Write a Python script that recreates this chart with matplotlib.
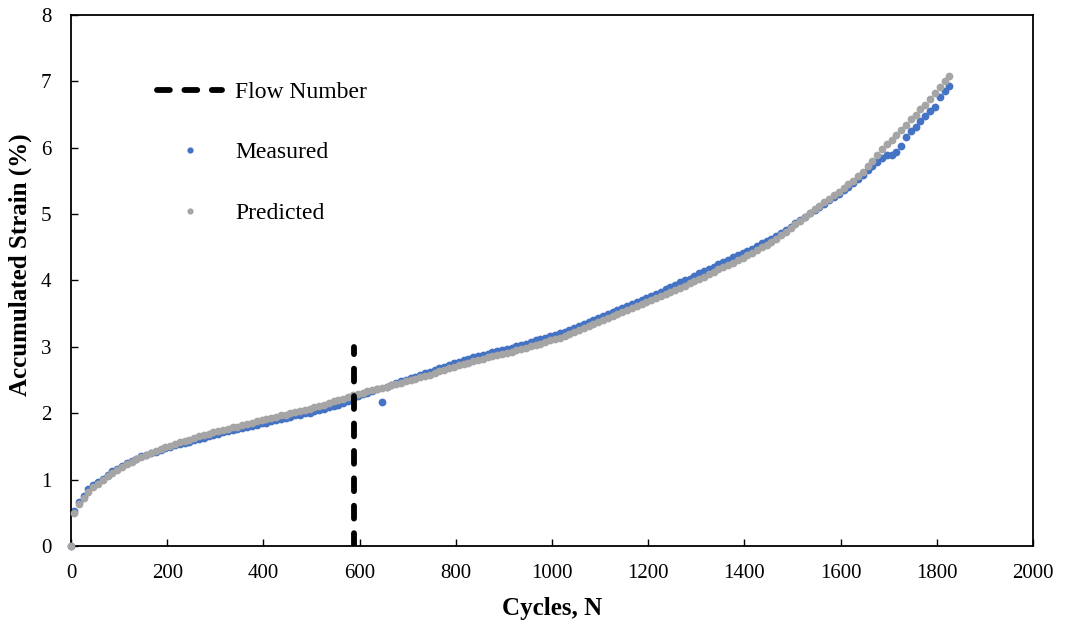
import matplotlib.pyplot as plt

plt.rcParams['font.family'] = ['Liberation Serif', 'DejaVu Serif']

# cycle numbers of the recorded points
cycles = [0, 6, 16, 26, 36, 46, 56, 66, 76, 86, 96,
          106, 116, 126, 136, 146, 156, 166, 176, 186, 196,
          206, 216, 226, 236, 246, 256, 266, 276, 286, 296,
          306, 316, 326, 336, 346, 356, 366, 376, 386, 396,
          406, 416, 426, 436, 446, 456, 466, 476, 486, 496,
          506, 516, 526, 536, 546, 556, 566, 576, 586, 596,
          606, 616, 626, 636, 646, 656, 666, 676, 686, 696,
          706, 716, 726, 736, 746, 756, 766, 776, 786, 796,
          806, 816, 826, 836, 846, 856, 866, 876, 886, 896,
          906, 916, 926, 936, 946, 956, 966, 976, 986, 996,
          1006, 1016, 1026, 1036, 1046, 1056, 1066, 1076, 1086, 1096,
          1106, 1116, 1126, 1136, 1146, 1156, 1166, 1176, 1186, 1196,
          1206, 1216, 1226, 1236, 1246, 1256, 1266, 1276, 1286, 1296,
          1306, 1316, 1326, 1336, 1346, 1356, 1366, 1376, 1386, 1396,
          1406, 1416, 1426, 1436, 1446, 1456, 1466, 1476, 1486, 1496,
          1506, 1516, 1526, 1536, 1546, 1556, 1566, 1576, 1586, 1596,
          1606, 1616, 1626, 1636, 1646, 1656, 1666, 1676, 1686, 1696,
          1706, 1716, 1726, 1736, 1746, 1756, 1766, 1776, 1786, 1796,
          1806, 1816, 1826]

measured = [0.00, 0.52, 0.66, 0.76, 0.86, 0.92, 0.96, 1.01, 1.07, 1.13, 1.16,
            1.20, 1.25, 1.28, 1.31, 1.35, 1.37, 1.40, 1.42, 1.45, 1.47,
            1.49, 1.52, 1.53, 1.55, 1.57, 1.59, 1.61, 1.63, 1.65, 1.67,
            1.69, 1.71, 1.73, 1.74, 1.76, 1.78, 1.80, 1.81, 1.83, 1.85,
            1.86, 1.88, 1.90, 1.92, 1.93, 1.95, 1.97, 1.98, 2.00, 2.01,
            2.03, 2.05, 2.07, 2.09, 2.11, 2.13, 2.16, 2.19, 2.22, 2.26,
            2.29, 2.31, 2.34, 2.36, 2.17, 2.40, 2.43, 2.45, 2.48, 2.50,
            2.53, 2.55, 2.58, 2.60, 2.62, 2.65, 2.68, 2.70, 2.73, 2.75,
            2.77, 2.80, 2.82, 2.84, 2.86, 2.88, 2.90, 2.92, 2.94, 2.95,
            2.97, 2.99, 3.01, 3.03, 3.05, 3.08, 3.10, 3.12, 3.14, 3.16,
            3.18, 3.21, 3.23, 3.26, 3.29, 3.31, 3.35, 3.38, 3.41, 3.43,
            3.47, 3.50, 3.53, 3.56, 3.59, 3.62, 3.65, 3.68, 3.71, 3.74,
            3.77, 3.80, 3.83, 3.87, 3.90, 3.93, 3.97, 4.00, 4.03, 4.07,
            4.11, 4.14, 4.18, 4.21, 4.25, 4.28, 4.31, 4.35, 4.38, 4.41,
            4.45, 4.48, 4.52, 4.56, 4.59, 4.63, 4.67, 4.71, 4.76, 4.81,
            4.86, 4.91, 4.96, 5.01, 5.06, 5.11, 5.16, 5.21, 5.26, 5.31,
            5.36, 5.41, 5.47, 5.53, 5.59, 5.66, 5.73, 5.78, 5.85, 5.89,
            5.89, 5.93, 6.03, 6.16, 6.25, 6.31, 6.40, 6.48, 6.55, 6.62,
            6.77, 6.86, 6.93]

predicted = [0.00, 0.50, 0.63, 0.72, 0.82, 0.89, 0.94, 0.99, 1.05, 1.10, 1.15,
             1.19, 1.23, 1.27, 1.31, 1.34, 1.37, 1.40, 1.43, 1.46, 1.49,
             1.51, 1.54, 1.56, 1.58, 1.60, 1.63, 1.65, 1.67, 1.69, 1.71,
             1.73, 1.75, 1.77, 1.79, 1.80, 1.82, 1.84, 1.86, 1.88, 1.90,
             1.91, 1.93, 1.95, 1.97, 1.98, 2.00, 2.02, 2.04, 2.05, 2.07,
             2.09, 2.11, 2.13, 2.15, 2.18, 2.20, 2.22, 2.25, 2.27, 2.29,
             2.31, 2.33, 2.35, 2.37, 2.38, 2.40, 2.42, 2.44, 2.46, 2.48,
             2.50, 2.52, 2.54, 2.56, 2.58, 2.60, 2.63, 2.65, 2.68, 2.70,
             2.72, 2.74, 2.76, 2.78, 2.80, 2.82, 2.84, 2.86, 2.88, 2.89,
             2.91, 2.93, 2.95, 2.97, 2.99, 3.01, 3.03, 3.05, 3.08, 3.10,
             3.12, 3.14, 3.17, 3.19, 3.22, 3.25, 3.28, 3.31, 3.34, 3.37,
             3.40, 3.43, 3.46, 3.49, 3.52, 3.55, 3.58, 3.61, 3.64, 3.67,
             3.70, 3.73, 3.76, 3.79, 3.82, 3.85, 3.89, 3.92, 3.96, 3.99,
             4.03, 4.06, 4.10, 4.13, 4.17, 4.20, 4.24, 4.27, 4.31, 4.34,
             4.38, 4.42, 4.46, 4.50, 4.54, 4.58, 4.63, 4.68, 4.73, 4.79,
             4.85, 4.90, 4.96, 5.01, 5.07, 5.12, 5.18, 5.23, 5.29, 5.34,
             5.39, 5.45, 5.50, 5.57, 5.64, 5.72, 5.80, 5.89, 5.98, 6.05,
             6.12, 6.19, 6.27, 6.35, 6.43, 6.50, 6.58, 6.65, 6.73, 6.82,
             6.92, 7.00, 7.08]

flow_number = 588
flow_x = [flow_number, flow_number]
flow_y = [0, 3]

blue = '#4472C4'
grey = '#A5A5A5'

fig = plt.figure(figsize=(10.65, 6.28), dpi=100)
ax = fig.add_axes([0.0667, 0.1306, 0.9033, 0.8455])

ax.plot(flow_x, flow_y, color='black', lw=4.2, linestyle=(0, (2.2, 2.5)),
        dash_capstyle='round', label='Flow Number', zorder=4)
ax.plot(cycles, measured, 'o', color=blue, ms=5.6, mew=0, label='Measured',
        zorder=2, clip_on=False)
ax.plot(cycles, predicted, 'o', color=grey, ms=5.6, mew=0, label='Predicted',
        zorder=3, clip_on=False)

ax.set_xlim(0, 2000)
ax.set_ylim(0, 8)
ax.set_xticks(range(0, 2001, 200))
ax.set_yticks(range(0, 9))
ax.tick_params(direction='in', length=5, width=1, labelsize=15)
ax.tick_params(axis='x', pad=13)
ax.tick_params(axis='y', pad=14)
for s in ax.spines.values():
    s.set_linewidth(1.3)

ax.set_xlabel('Cycles, N', fontsize=18, fontweight='bold', labelpad=10)
ax.set_ylabel('Accumulated Strain (%)', fontsize=18, fontweight='bold')
ax.yaxis.set_label_coords(-0.041, 0.53)

leg = ax.legend(loc='upper left', bbox_to_anchor=(0.08, 0.893), frameon=False,
                fontsize=17, labelspacing=1.65, handlelength=2.75,
                handletextpad=0.55, markerscale=0.8, borderaxespad=0)

fig.savefig('out.png', dpi=100)
